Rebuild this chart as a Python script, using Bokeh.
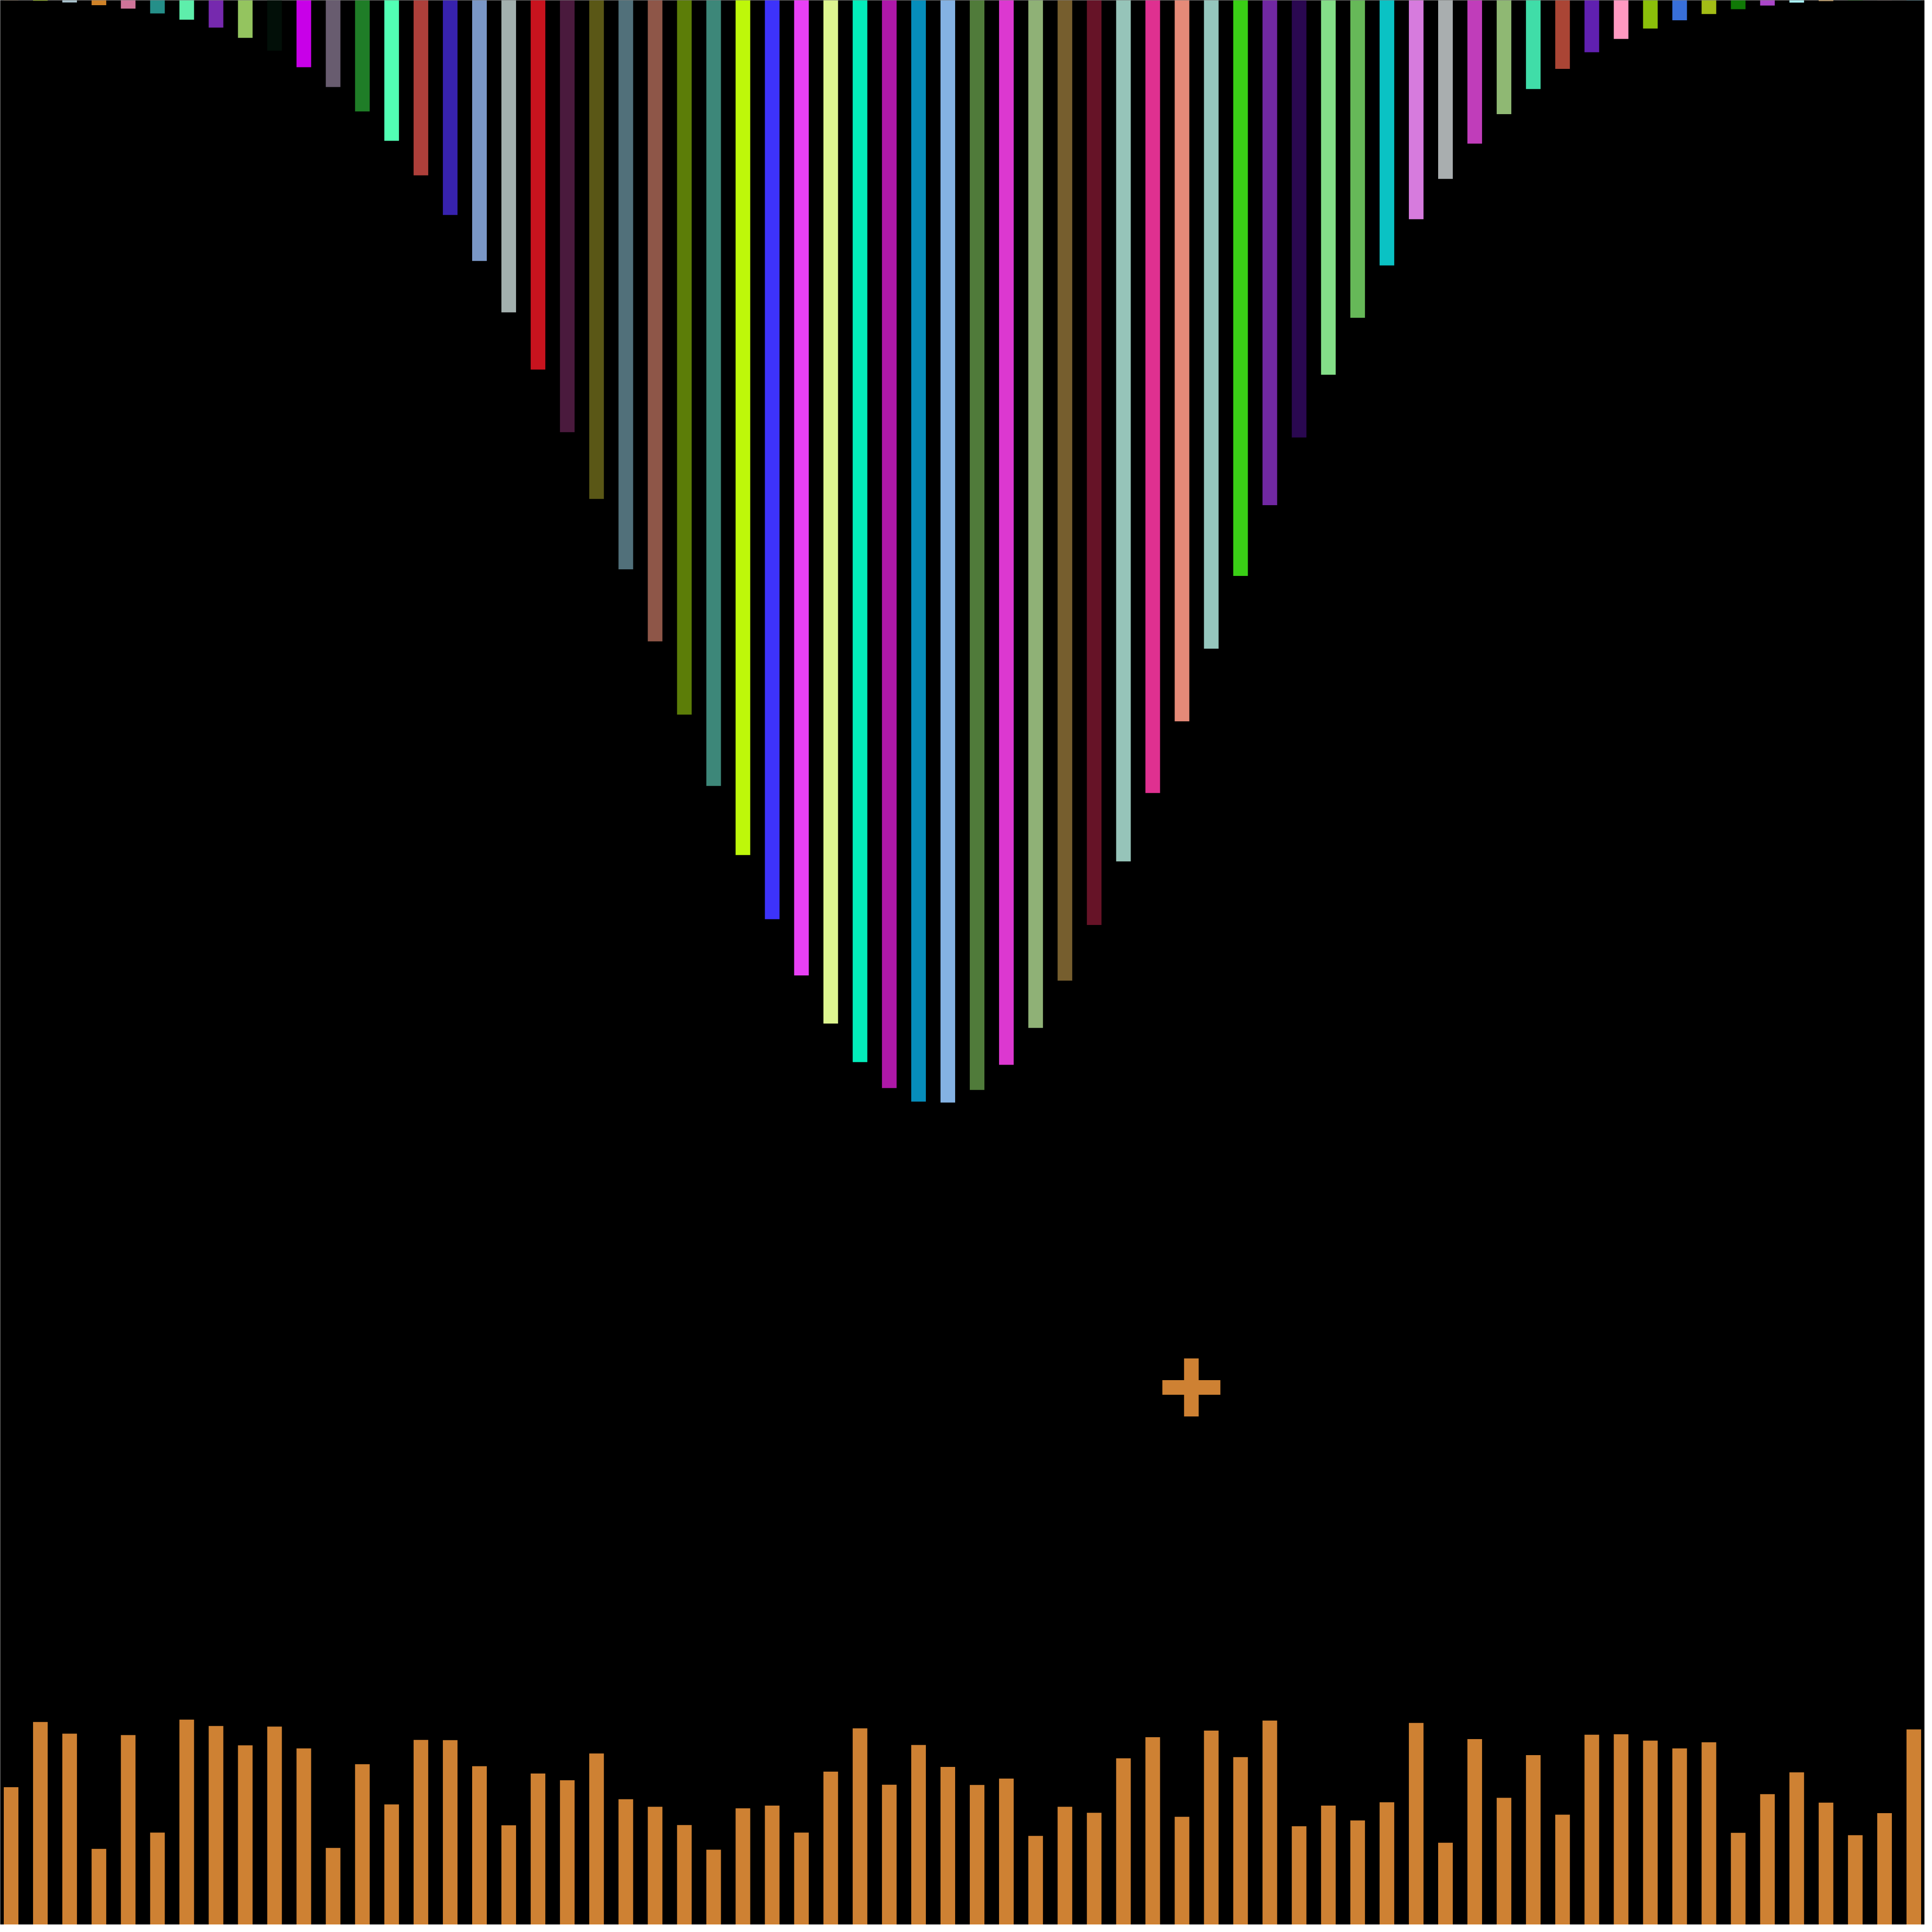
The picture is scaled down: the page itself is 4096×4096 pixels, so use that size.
from bokeh.plotting import figure
from bokeh.models import Range1d, ColumnDataSource
from bokeh.embed import file_html
from bokeh.resources import INLINE

# ---- data -------------------------------------------------------------
positions = list(range(66))

# lengths of the bars hanging from the top (y units, full height = 100)
top_lengths = [
    0.16, 0.22, 0.31, 0.45, 0.63, 0.88, 1.20, 1.61, 2.14, 2.81,
    3.66, 4.69, 5.95, 7.47, 9.26, 11.31, 13.69, 16.35, 19.31, 22.55,
    26.01, 29.65, 33.38, 37.17, 40.86, 44.44, 47.76, 50.67, 53.16, 55.16,
    56.50, 57.20, 57.25, 56.60, 55.30, 53.39, 50.94, 48.06, 44.77, 41.23,
    37.52, 33.76, 29.99, 26.33, 22.83, 19.58, 16.63, 13.92, 11.53, 9.44,
    7.62, 6.09, 4.79, 3.75, 2.89, 2.20, 1.66, 1.23, 0.91, 0.66,
    0.47, 0.32, 0.24, 0.16, 0.11, 0.08,
]

top_colors = [
    "#E9AA7E", "#B5E50A", "#A9C2CC", "#CF8228", "#CE7499", "#258F89",
    "#5EEEAB", "#7629AE", "#94C45F", "#020F08", "#C800E8", "#685C6F",
    "#1F7D27", "#52FFB4", "#AD3F3A", "#3722AE", "#7A97C6", "#A3B0AE",
    "#C8131E", "#4A1A3D", "#5A5716", "#51707A", "#8E5648", "#5C7D08",
    "#3D8779", "#BEF70A", "#3D33FA", "#E840F5", "#DDF590", "#03EDBA",
    "#AE18A8", "#068DBB", "#84B2E3", "#507B3A", "#DC38D0", "#8FB176",
    "#765E2E", "#661327", "#96C4B9", "#DF3090", "#E58A78", "#95C6BD",
    "#3ACF16", "#7128A2", "#2A0850", "#84DE88", "#66B858", "#0AC2C4",
    "#D67BDD", "#A9AEAF", "#C03DBA", "#8FB873", "#40DDA8", "#AA4535",
    "#6020B0", "#FF99C1", "#8BC00A", "#386FD9", "#A3BD16", "#107806",
    "#AA46C8", "#AAF4FB", "#D9AE6D", "#14D110", "#C29B9B", "#4ED6F7",
]

# heights of the bars rising from the bottom
bottom_heights = [
    7.31, 10.69, 10.08, 4.12, 10.01, 4.96, 10.81, 10.48, 9.48, 10.45,
    9.32, 4.17, 8.50, 6.42, 9.76, 9.75, 8.40, 5.34, 8.02, 7.67,
    9.06, 6.69, 6.30, 5.35, 4.08, 6.22, 6.36, 4.96, 8.12, 10.36,
    7.44, 9.50, 8.36, 7.43, 7.76, 4.79, 6.30, 5.99, 8.81, 9.90,
    5.78, 10.24, 8.87, 10.76, 5.29, 6.36, 5.59, 6.53, 10.64, 4.44,
    9.80, 6.76, 8.97, 5.89, 10.03, 10.05, 9.72, 9.32, 9.64, 4.95,
    6.95, 8.08, 6.51, 4.83, 5.97, 10.30,
]
bottom_color = "#CE8133"

# the single plus marker
plus_x = [40.32]
plus_y = [28.0]

y_max = 100.0

# ---- figure -----------------------------------------------------------
n = len(positions)
px_per_x = 4096 / n
px_per_y = 4096 / y_max
off = 8  # page margin, keep same pixel mapping as the reference

p = figure(
    width=4080, height=4080,
    output_backend="svg", toolbar_location=None,
    x_range=Range1d(-0.5 + off / px_per_x, -0.5 + (4096 - off) / px_per_x),
    y_range=Range1d(off / px_per_y, y_max - off / px_per_y),
    x_axis_location=None, y_axis_location=None,
    min_border=0,
    background_fill_color="black", border_fill_color="black",
)
p.outline_line_color = None
p.xgrid.visible = False
p.ygrid.visible = False

top_src = ColumnDataSource(dict(
    x=positions,
    top=[y_max] * n,
    bottom=[y_max - v for v in top_lengths],
    color=top_colors,
))
p.vbar(x="x", top="top", bottom="bottom", width=0.5, source=top_src,
       fill_color="color", line_color=None)

bot_src = ColumnDataSource(dict(x=positions, top=bottom_heights))
p.vbar(x="x", top="top", bottom=0, width=0.5, source=bot_src,
       fill_color=bottom_color, line_color=None)

# plus sign made of two crossing bars
p.rect(x=plus_x, y=plus_y, width=123, height=31,
       width_units="screen", height_units="screen",
       fill_color=bottom_color, line_color=None)
p.rect(x=plus_x, y=plus_y, width=31, height=123,
       width_units="screen", height_units="screen",
       fill_color=bottom_color, line_color=None)

open("out.html", "w").write(file_html(p, INLINE))
